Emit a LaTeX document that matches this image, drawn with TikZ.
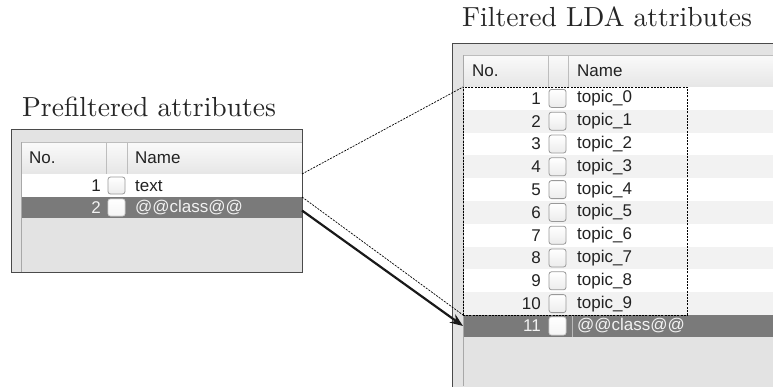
\documentclass[tikz,border=0pt]{standalone}
\usepackage{fontspec}
\newfontfamily\uifont{Liberation Sans}
\newfontfamily\titlefont{lmroman10-regular}[Extension=.otf]
\usetikzlibrary{arrows.meta}

\definecolor{panelbg}{HTML}{E3E3E3}
\definecolor{paneledge}{HTML}{4A4A4A}
\definecolor{viewedge}{HTML}{A8A8A8}
\definecolor{hdrtop}{HTML}{FAFAFA}
\definecolor{hdrbot}{HTML}{E6E6E6}
\definecolor{hdredge}{HTML}{BDBDBD}
\definecolor{altrow}{HTML}{F2F2F2}
\definecolor{selrow}{HTML}{7A7A7A}
\definecolor{uitext}{HTML}{222222}
\definecolor{seltext}{HTML}{F2F2F2}

\tikzset{
  cell/.style={inner sep=0pt, outer sep=0pt, anchor=north west},
  panel/.style={cell, draw=paneledge, line width=1pt, fill=panelbg},
  hdr/.style={cell, top color=hdrtop, bottom color=hdrbot, draw=hdredge, line width=0.6pt},
  plainrow/.style={cell, fill=white},
  evenrow/.style={cell, fill=altrow},
  selectedrow/.style={cell, fill=selrow},
  uilabel/.style={inner sep=0pt, font=\uifont\fontsize{17}{17}\selectfont, text=uitext},
  sellabel/.style={uilabel, text=seltext},
  tickbox/.style={cell, draw=gray!80, rounded corners=2.5pt, top color=white, bottom color=gray!15,
                  line width=0.8pt, minimum width=17pt, minimum height=17pt},
  seltickbox/.style={tickbox, draw=gray!35, top color=white, bottom color=gray!8},
  title/.style={inner sep=0pt, font=\titlefont\fontsize{27.6}{32}\selectfont, text=black!85},
  zoomline/.style={black, line width=0.7pt, dash pattern=on 2pt off 1.2pt},
  movearrow/.style={black!90, line width=2.2pt, -{Stealth[length=13pt, width=10pt]}},
}

\begin{document}
\begin{tikzpicture}[x=1pt, y=-1pt]
\useasboundingbox (0,0) rectangle (773,386);

% ---------- titles ----------
\node[title, anchor=base west] (ltitle) at (22,116) {Prefiltered attributes};
\node[title, anchor=base west] (rtitle) at (462,26) {Filtered LDA attributes};

% ---------- left panel: prefiltered attributes ----------
\node[panel, minimum width=291pt, minimum height=143pt] (lpanel) at (11,129) {};
\node[hdr, minimum width=281pt, minimum height=32pt] (lhdr) at (21,142) {};
\draw[hdredge, line width=0.6pt] (106,142) -- (106,174) (127,142) -- (127,174);
\node[uilabel, anchor=west] (lhno) at (29,158) {No.};
\node[uilabel, anchor=west] (lhname) at (135,158) {Name};

\node[plainrow, minimum width=281pt, minimum height=23pt] (lrow1) at (21,174) {};
\node[uilabel, anchor=east] (lnum1) at (101,186) {1};
\node[tickbox] (lbox1) at (108,177) {};
\node[uilabel, anchor=west] (lname1) at (135,186) {text};

\node[selectedrow, minimum width=281pt, minimum height=21pt] (lrow2) at (21,197) {};
\node[sellabel, anchor=east] (lnum2) at (101,207.5) {2};
\node[seltickbox] (lbox2) at (108,199) {};
\node[sellabel, anchor=west] (lname2) at (135,207.5) {@@class@@};

\draw[viewedge, line width=0.8pt] (21,142) -- (21,272);
\draw[paneledge, line width=1pt] (11,129) rectangle (302,272);

% ---------- right panel: filtered LDA attributes ----------
\begin{scope}
\clip (440,0) rectangle (773,386);
\node[panel, minimum width=340pt, minimum height=360pt] (rpanel) at (452,43) {};
\node[hdr, minimum width=320pt, minimum height=32pt] (rhdr) at (463,55) {};
\draw[hdredge, line width=0.6pt] (548,55) -- (548,87) (568,55) -- (568,87);
\node[uilabel, anchor=west] (rhno) at (472,71) {No.};
\node[uilabel, anchor=west] (rhname) at (577,71) {Name};

\foreach \i [evaluate=\i as \top using {87+(\i-1)*22.8},
             evaluate=\i as \mid using {87+(\i-0.5)*22.8},
             evaluate=\i as \n using {int(\i-1)}] in {1,...,10} {
  \ifodd\i
    \node[plainrow, minimum width=320pt, minimum height=22.8pt] (rrow\i) at (463,\top) {};
  \else
    \node[evenrow, minimum width=320pt, minimum height=22.8pt] (rrow\i) at (463,\top) {};
  \fi
  \node[uilabel, anchor=east] (rnum\i) at (541,\mid) {\i};
  \node[tickbox, minimum height=18pt] (rbox\i) at (549,\mid-9) {};
  \node[uilabel, anchor=west] (rname\i) at (577,\mid) {topic\_\n};
}

\node[selectedrow, minimum width=320pt, minimum height=22pt] (rrow11) at (463,315) {};
\node[sellabel, anchor=east] (rnum11) at (541,326) {11};
\node[seltickbox, minimum height=18pt] (rbox11) at (549,317) {};
\draw[gray!55, line width=0.6pt] (572,315) -- (572,337);
\node[sellabel, anchor=west] (rname11) at (577,326) {@@class@@};

\draw[viewedge, line width=0.8pt] (463,55) -- (463,386);
\draw[paneledge, line width=1pt] (452,43) -- (452,390) (452,43) -- (780,43);
\end{scope}

% ---------- selection of the topic attributes ----------
\node[cell, draw=black, line width=0.7pt, dash pattern=on 2pt off 1.2pt,
      minimum width=224pt, minimum height=228pt] (sel) at (463,87) {};

% ---------- connectors ----------
\draw[zoomline] (lhdr.south east) -- (sel.north west);
\draw[zoomline] (lrow2.north east) -- (sel.south west);
\draw[movearrow] ([yshift=-3pt]lrow2.east) -- (rrow11.west);
\end{tikzpicture}
\end{document}
